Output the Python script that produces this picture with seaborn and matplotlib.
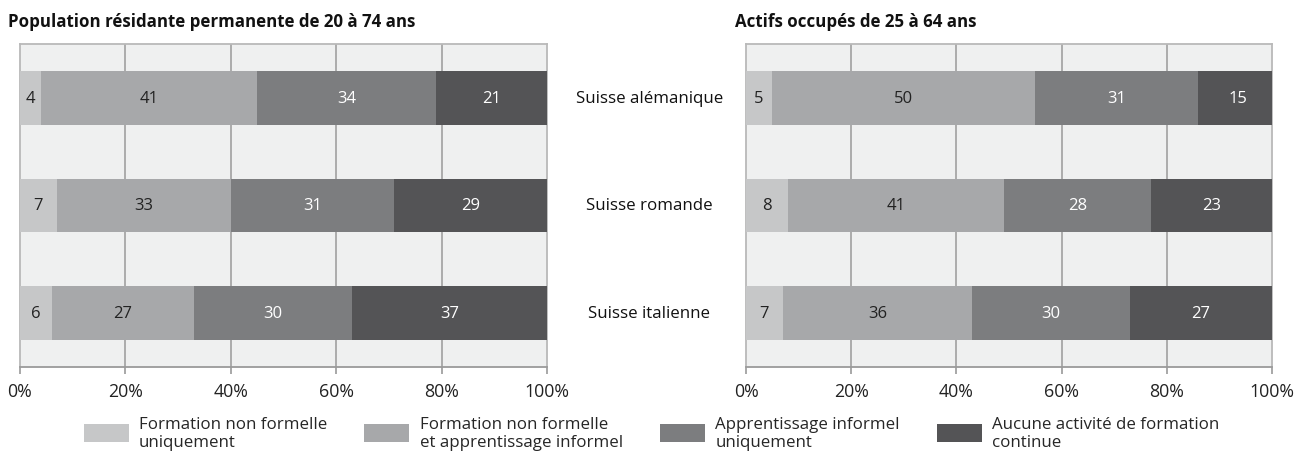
import numpy as np
import pandas as pd
import matplotlib
matplotlib.use("Agg")
import matplotlib.pyplot as plt
import seaborn as sns
from matplotlib.patches import Patch

regions = ["Suisse alémanique", "Suisse romande", "Suisse italienne"]
series = ["Formation non formelle\nuniquement",
          "Formation non formelle\net apprentissage informel",
          "Apprentissage informel\nuniquement",
          "Aucune activité de formation\ncontinue"]
pop_values = [[4, 41, 34, 21],
              [7, 33, 31, 29],
              [6, 27, 30, 37]]
act_values = [[5, 50, 31, 15],
              [8, 41, 28, 23],
              [7, 36, 30, 27]]
titles = ["Population résidante permanente de 20 à 74 ans",
          "Actifs occupés de 25 à 64 ans"]
tick_vals = [0, 20, 40, 60, 80, 100]
tick_labels = ["0%", "20%", "40%", "60%", "80%", "100%"]

colors = ["#c6c7c8", "#a7a8aa", "#7c7d7f", "#545456"]
text_colors = ["#222222", "#222222", "#ffffff", "#ffffff"]

sns.set_theme(style="white")
plt.rcParams['font.family'] = ['Open Sans', 'DejaVu Sans']

fig = plt.figure(figsize=(13.11, 4.6), dpi=100)
ax1 = fig.add_axes([20/1311, 1-368/460, 527/1311, 323/460])
ax2 = fig.add_axes([746/1311, 1-368/460, 526/1311, 323/460])


def draw(ax, values, title, title_x):
    arr = np.array(values, dtype=float)
    cum = np.cumsum(arr, axis=1)
    ax.set_facecolor("#eff0f0")
    for k in range(len(series) - 1, -1, -1):
        df = pd.DataFrame({"region": regions, "cum": cum[:, k]})
        sns.barplot(data=df, y="region", x="cum", order=regions, orient="h",
                    color=colors[k], width=0.5, linewidth=0, saturation=1,
                    ax=ax, zorder=3, errorbar=None)
    for i in range(len(regions)):
        for k in range(len(series)):
            cx = cum[i, k] - arr[i, k] / 2
            ax.text(cx, i, f"{int(arr[i, k])}", ha="center", va="center",
                    color=text_colors[k], fontsize=12, zorder=5)
    ax.set_xlim(0, 100)
    ax.set_ylim(2.5, -0.5)
    ax.set_xticks(tick_vals)
    ax.set_xticklabels(tick_labels, fontsize=12.8, color="#222222")
    ax.set_yticks([])
    ax.set_xlabel("")
    ax.set_ylabel("")
    for x in tick_vals[1:-1]:
        ax.axvline(x, color="#a6a6a6", lw=1.3, zorder=1)
    for s in ["left", "right", "top"]:
        ax.spines[s].set_color("#b9b9b9")
        ax.spines[s].set_linewidth(1.3)
    ax.spines["bottom"].set_color("#9a9a9a")
    ax.spines["bottom"].set_linewidth(1.3)
    ax.tick_params(axis="x", bottom=True, length=5, width=1.2,
                   color="#9a9a9a", pad=6)
    fig.text(title_x, 1 - 22/460, title, fontsize=12.2, fontweight="bold",
             ha="left", va="center", color="#111111")


draw(ax1, pop_values, titles[0], 8/1311)
draw(ax2, act_values, titles[1], 735/1311)

for i, r in enumerate(regions):
    ax2.text(-0.184, 1 - (i + 0.5) / 3, r, transform=ax2.transAxes,
             ha="center", va="center", fontsize=12.2, color="#111111")

handles = [Patch(facecolor=c, edgecolor="none") for c in colors]
fig.legend(handles, series, loc="center", bbox_to_anchor=(0.497, 1 - 434/460),
           ncol=4, frameon=False, fontsize=12.2, handlelength=2.66,
           handleheight=1.25, columnspacing=2.2, handletextpad=0.6,
           borderaxespad=0, labelspacing=0.2)

fig.savefig("out.png", dpi=100)
